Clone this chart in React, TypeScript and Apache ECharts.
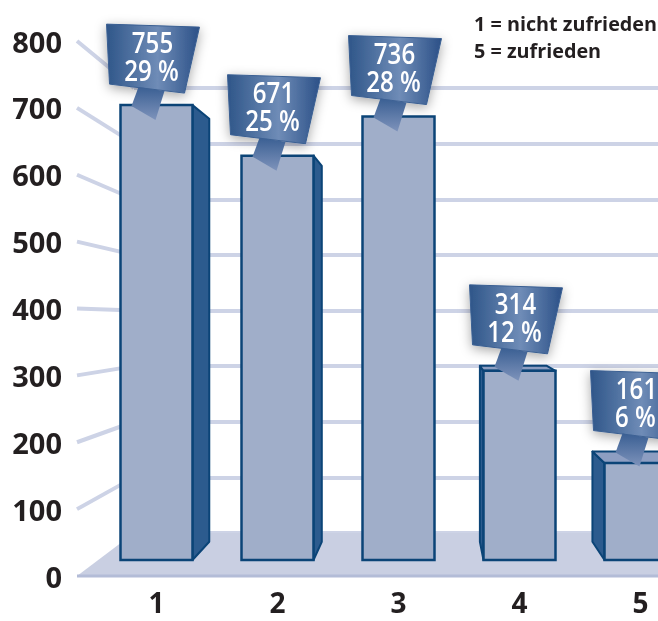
import React, { useEffect, useRef } from 'react';
import * as echarts from 'echarts';

const categories = ['1', '2', '3', '4', '5'];
const counts = [755, 671, 736, 314, 161];
const percents = ['29 %', '25 %', '28 %', '12 %', '6 %'];
const axisMin = 0;
const axisMax = 800;
const axisStep = 100;
const legendLines = ['1 = nicht zufrieden', '5 = zufrieden'];

const FONT = '"Open Sans", "Noto Sans", sans-serif';
const INK = '#231f20';
const NAVY = '#0b4477';
const VP = [432, 300];
const DEPTH = 0.93;

export default function App() {
  const ref = useRef<HTMLDivElement>(null);

  useEffect(() => {
    const chart = echarts.init(ref.current!, null, { renderer: 'svg' });
    const proj = (x: number, y: number) => [VP[0] + (x - VP[0]) * DEPTH, VP[1] + (y - VP[1]) * DEPTH];

    const renderItem = (params: any, api: any) => {
      const i = api.value(0);
      const v = api.value(1);
      const base = api.coord([i, 0]);
      const top = api.coord([i, v]);
      const cx = base[0];
      const w = api.size([1, 0])[0] * 0.595;
      const x0 = cx - w / 2;
      const x1 = cx + w / 2;
      const yT = top[1];
      const yB = base[1];
      const children: any[] = [];
      const sideStyle = { fill: '#2c5b8e', stroke: NAVY, lineWidth: 2, lineJoin: 'round' };
      if (x1 < VP[0]) {
        children.push({ type: 'polygon', shape: { points: [[x1, yT], proj(x1, yT), proj(x1, yB), [x1, yB]] }, style: sideStyle });
      }
      if (x0 > VP[0]) {
        children.push({ type: 'polygon', shape: { points: [[x0, yT], proj(x0, yT), proj(x0, yB), [x0, yB]] }, style: sideStyle });
      }
      let A = yT;
      if (yT > VP[1]) {
        children.push({
          type: 'polygon',
          shape: { points: [[x0, yT], [x1, yT], proj(x1, yT), proj(x0, yT)] },
          style: { fill: '#8d9ec2', stroke: NAVY, lineWidth: 2, lineJoin: 'round' },
        });
        A = proj(x0, yT)[1];
      }
      children.push({
        type: 'rect',
        shape: { x: x0, y: yT, width: w, height: yB - yT },
        style: { fill: '#a0aec9', stroke: NAVY, lineWidth: 2.5 },
      });
      // bubble box
      children.push({
        type: 'polygon',
        shape: { points: [[cx - 50, A - 81], [cx + 43, A - 78], [cx + 28, A - 12], [cx - 47, A - 21]] },
        style: {
          fill: new echarts.graphic.LinearGradient(0, 0, 1, 0, [
            { offset: 0, color: '#2f5689' },
            { offset: 0.55, color: '#6f8cb7' },
            { offset: 1, color: '#2b5087' },
          ]),
          stroke: '#3a5f92',
          lineWidth: 1,
          lineJoin: 'round',
          shadowBlur: 12,
          shadowColor: 'rgba(0,0,0,0.35)',
          shadowOffsetY: 3,
        },
      });
      // tail
      children.push({
        type: 'polygon',
        shape: { points: [[cx - 18, A - 18], [cx - 25, A + 1], [cx - 1, A + 15], [cx + 8, A - 14]] },
        style: {
          fill: new echarts.graphic.LinearGradient(0, 0, 0, 1, [
            { offset: 0, color: '#3a5f93' },
            { offset: 1, color: '#7e93bb' },
          ]),
        },
      });
      const textStyle = { x: 0, y: 0, fill: '#ffffff', fontSize: 28, fontWeight: 600, fontFamily: FONT, align: 'center', verticalAlign: 'middle' };
      children.push({ type: 'text', x: cx - 4, y: A - 63, scaleX: 0.86, style: { ...textStyle, text: String(counts[params.dataIndex]) } });
      children.push({ type: 'text', x: cx - 5, y: A - 35, scaleX: 0.86, style: { ...textStyle, text: percents[params.dataIndex] } });
      return { type: 'group', children };
    };

    const labelStyle = { fontSize: 29, fontWeight: 'bold', color: INK, fontFamily: FONT, lineHeight: 28 };

    chart.setOption({
      animation: false,
      title: {
        text: legendLines.join('\n'),
        left: 474,
        top: 10,
        padding: 0,
        textStyle: { fontSize: 19.8, fontWeight: 'bold', color: INK, lineHeight: 27, fontFamily: FONT },
      },
      grid: [
        { left: 77, top: 41, width: 57, height: 535, outerBoundsMode: 'none' },
        { left: 134, top: 88, right: 0, height: 445, outerBoundsMode: 'none' },
        { left: 96, top: 78, width: 605, height: 482, outerBoundsMode: 'none' },
      ],
      xAxis: [
        { gridIndex: 0, type: 'value', show: false, min: 0, max: 1 },
        { gridIndex: 1, type: 'value', show: false, min: 0, max: 1 },
        {
          gridIndex: 2,
          type: 'category',
          data: categories,
          axisLine: { show: false },
          axisTick: { show: false },
          axisLabel: { ...labelStyle, fontSize: 28, margin: 28 },
        },
      ],
      yAxis: [
        {
          gridIndex: 0, type: 'value', min: axisMin, max: axisMax, interval: axisStep,
          axisLine: { show: false }, axisTick: { show: false }, splitLine: { show: false },
          axisLabel: { ...labelStyle, margin: 15 },
        },
        {
          gridIndex: 1, type: 'value', min: axisMin, max: axisMax, interval: axisStep,
          axisLine: { show: false }, axisTick: { show: false }, axisLabel: { show: false },
          splitLine: { show: true, lineStyle: { color: '#cdd3e6', width: 4 } },
        },
        { gridIndex: 2, type: 'value', min: axisMin, max: axisMax, show: false },
      ],
      series: [
        {
          type: 'custom',
          xAxisIndex: 2,
          yAxisIndex: 2,
          clip: false,
          data: counts.map((v, i) => [i, v]),
          renderItem,
        },
      ],
    });

    const yLab = (v: number) => chart.convertToPixel({ yAxisIndex: 0 }, v) as number;
    const yWall = (v: number) => chart.convertToPixel({ yAxisIndex: 1 }, v) as number;
    const xLab = chart.convertToPixel({ xAxisIndex: 0 }, 0) as number;
    const xWall = chart.convertToPixel({ xAxisIndex: 1 }, 0) as number;
    const W = chart.getWidth();
    const graphics: any[] = [
      {
        type: 'polygon', z: 1,
        shape: { points: [[xLab, yLab(0)], [xWall, yWall(0)], [W, yWall(0)], [W, yLab(0)]] },
        style: { fill: '#c9cfe2' },
      },
      {
        type: 'line', z: 1,
        shape: { x1: xLab, y1: yLab(0), x2: W, y2: yLab(0) },
        style: { stroke: '#b3bcd7', lineWidth: 3 },
      },
    ];
    for (let v = axisMin + axisStep; v <= axisMax; v += axisStep) {
      graphics.push({
        type: 'line', z: 1,
        shape: { x1: xLab, y1: yLab(v), x2: xWall, y2: yWall(v) },
        style: { stroke: '#cdd3e6', lineWidth: 4 },
      });
    }
    chart.setOption({ graphic: graphics });

    return () => chart.dispose();
  }, []);

  return <div ref={ref} style={{ position: 'fixed', left: 0, top: 0, width: 658, height: 621 }} />;
}
